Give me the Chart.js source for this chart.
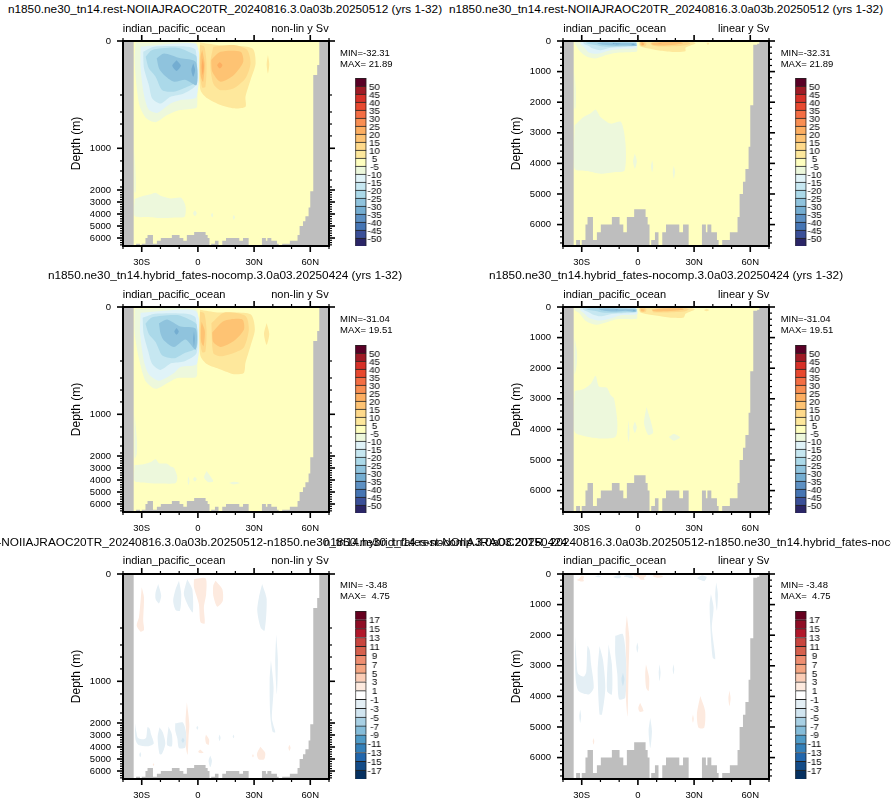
<!DOCTYPE html>
<html>
<head>
<meta charset="utf-8">
<title>indian_pacific_ocean MOC</title>
<script src="https://cdn.jsdelivr.net/npm/chart.js@4"></script>
<style>
  body { margin: 0; background: #fff; width: 891px; height: 805px; overflow: hidden; position: relative;
         font-family: "Liberation Sans", Arial, sans-serif; color: #000; }
  canvas { position: absolute; }
  .txt { position: absolute; white-space: nowrap; line-height: 1; }
</style>
</head>
<body>
<script>
// Axis values
const latTicks = [-40, -30, -20, -10, 0, 10, 20, 30, 40, 50, 60, 70];
const latLabels = { '-30': '30S', '0': '0', '30': '30N', '60': '60N' };
const depthLabels = [0, 1000, 2000, 3000, 4000, 5000, 6000];
const nonlinMinor = [200, 400, 600, 800, 1200, 1400, 1600, 1800, 2200, 2400, 2600, 2800, 3200, 3400, 3600, 3800, 4200, 4400, 4600, 4800, 5200, 5400, 5600, 5800, 6200, 6400, 6600];
const linearMinor = [200, 400, 600, 800, 1200, 1400, 1600, 1800, 2200, 2400, 2600, 2800, 3200, 3400, 3600, 3800, 4200, 4400, 4600, 4800, 5200, 5400, 5600, 5800, 6200, 6400, 6600];
const depthMax = 6700;

// Irregular depth axis: depth -> fraction of axis height
const knotDepth = [0, 200, 400, 600, 800, 1000, 1200, 1400, 1600, 1800, 2000, 6000, 6700];
const knotFrac = [0, 0.2634, 0.3463, 0.405, 0.463, 0.5234, 0.585, 0.634, 0.678, 0.712, 0.7268, 0.961, 1];

// Colour levels
const meanLevels = [50, 45, 40, 35, 30, 25, 20, 15, 10, 5, -5, -10, -15, -20, -25, -30, -35, -40, -45, -50];
const meanColors = ['#5a0026', '#a01a25', '#d73027', '#e8482e', '#f46d43', '#f98e52', '#fdae61', '#fec373', '#fed98a', '#fee89c', '#ffffbf', '#edf8dc', '#e0f3f8', '#c6e7f1', '#abd9e9', '#8fc3dd', '#74add1', '#5c90c3', '#4575b4', '#3a4f98', '#2a2566'];
const diffLevels = [17, 15, 13, 11, 9, 7, 5, 3, 1, -1, -3, -5, -7, -9, -11, -13, -15, -17];
const diffColors = ['#67001f', '#8f0d25', '#b2182b', '#c9453f', '#d6604d', '#ee8d70', '#f4a582', '#fbcdb6', '#fdeadf', '#ffffff', '#e4eff5', '#d1e5f0', '#a8d0e4', '#84bcd9', '#4f9bc7', '#3480b9', '#2166ac', '#134b87', '#053061'];

// Sea floor and land: latitude of each step, depth of the floor from there on
const floorLat = [-40, -34.3, -33, -30.9, -30, -28, -26.9, -24, -21.9, -19.8, -13.9, -9.8, -7.8, -5.9, -2, 4.1, 5.2, 6.2, 7.1, 9.1, 11, 13, 15, 22.1, 24.1, 27.1, 34.2, 36.3, 37.1, 39.2, 42.2, 43.1, 45, 49.1, 53.2, 54.3, 56.1, 57.4, 59.1, 60, 61.6, 63.7, 64.8, 70];
const floorDepth = [0, 6700, 6500, 6700, 6500, 6000, 5750, 6500, 6250, 6000, 5750, 6000, 6250, 5750, 5500, 5750, 6000, 6700, 6500, 6250, 6700, 6250, 6000, 6250, 6000, 6700, 6000, 6250, 6000, 6250, 6500, 6700, 6500, 6250, 5750, 5000, 4600, 4180, 3460, 2100, 126, 89, 0, 0];

const wholeOcean = [[-40, 0], [70, 0], [70, 6700], [-40, 6700]];

// rest case, contours as [lat, depth]
const restM5 = [[-33.3, 6], [-1.2, 6], [-0.4, 95], [-0.4, 337], [-2.1, 360], [-11, 385], [-16.4, 450], [-22.6, 570], [-27.4, 510], [-31, 337], [-32.7, 170], [-33.8, 70]];
const restM10 = [[-30.6, 21], [-1.2, 11], [-0.7, 220], [-9.3, 260], [-14.6, 300], [-21.7, 415], [-26.2, 375], [-28.8, 200], [-30.6, 101]];
const restM15 = [[-29.2, 40], [-23.5, 21], [-5.7, 21], [-1.2, 33], [-1.2, 163], [-7.5, 194], [-14.6, 220], [-19.9, 300], [-24.4, 240], [-26.2, 163], [-28.8, 101]];
const restM20 = [[-27.9, 58], [-24.4, 33], [-11, 25], [-3, 46], [-0.7, 58], [-1.2, 151], [-7.5, 175], [-12.8, 188], [-19, 182], [-22.6, 132], [-26.2, 101]];
const restM25 = [[-22, 64], [-18.1, 46], [-9.3, 64], [-1.2, 77], [-0.7, 163], [-6.6, 144], [-12.8, 151], [-18.1, 126], [-20.8, 101]];
const restM30a = [[-11.4, 71], [-9.1, 91], [-11.4, 111], [-13.7, 91]];
const restM30b = [[-2.5, 82], [-1.5, 107], [-2.5, 132], [-3.5, 107]];
const restP5 = [[1.1, 6], [10.3, 15], [29, 27], [30.8, 83], [28.1, 144], [25.4, 220], [25.4, 337], [19.2, 357], [12.1, 318], [5, 239], [1.4, 182], [0.7, 95]];
const restP5b = [[37.4, 52], [38.1, 86], [37.4, 120], [36.7, 86]];
const restP10a = [[1.1, 15], [3.4, 21], [4.6, 83], [4, 169], [2.3, 172], [1.1, 120]];
const restP10b = [[8.2, 21], [19.2, 15], [26.3, 33], [28.1, 83], [25.4, 138], [19.2, 175], [12.1, 182], [8.2, 157], [6.6, 83]];
const restP15a = [[2.3, 33], [3.6, 83], [2.8, 151], [1.6, 132], [1.4, 58]];
const restP15b = [[7.1, 70], [12.1, 40], [22.8, 40], [24.2, 77], [19.2, 126], [12.1, 151], [7.7, 114]];
const restP20a = [[2.6, 64], [3.2, 95], [2.6, 126], [2, 95]];
const restP20b = [[11.7, 78], [13.1, 90], [11.7, 102], [10.3, 90]];
const restDeep = [[-33.8, 2754], [-29, 2481], [-25, 2350], [-22.6, 2240], [-20, 2481], [-14.6, 2700], [-9, 2645], [-6.6, 3355], [-7.1, 4230], [-11.9, 4285], [-20, 4340], [-27, 4252], [-33.8, 4175]];
const restDeepB = [[-1.6, 3680], [-0.6, 3930], [-1.6, 4175], [-2.6, 3930]];
const restDeepC = [[7.6, 3900], [8.2, 4090], [7.6, 4285], [7, 4090]];
const restDeepD = [[19.2, 4065], [19.8, 4280], [19.2, 4500], [18.6, 4280]];
const restCoast = [[-33.9, 1000], [-33.2, 1600], [-33.3, 2200], [-33.9, 2200]];

const restShapes = [[0, wholeOcean], [-5, restM5], [-10, restM10], [-15, restM15], [-20, restM20], [-25, restM25], [-30, restM30a], [-30, restM30b],
  [5, restP5], [5, restP5b], [10, restP10a], [10, restP10b], [15, restP15a], [15, restP15b], [20, restP20a], [20, restP20b],
  [-5, restDeep], [-5, restDeepB], [-5, restDeepC], [-5, restDeepD], [-5, restCoast]];

// hybrid case
const hybM5 = [[-33.8, 6], [-1.2, 6], [-0.4, 95], [-0.4, 360], [-1.2, 395], [-11, 400], [-15.5, 470], [-22.6, 580], [-28, 450], [-31.5, 190], [-33.8, 95]];
const hybM10 = [[-30.6, 21], [-1.2, 15], [-0.4, 230], [-9.3, 270], [-12.8, 340], [-20.8, 445], [-26.2, 355], [-28.8, 205], [-30.9, 95]];
const hybM15 = [[-29.5, 40], [-23, 25], [-6, 25], [-1.2, 40], [-0.7, 170], [-7.5, 205], [-14, 225], [-20, 305], [-24.4, 235], [-26.5, 165], [-29, 100]];
const hybM20 = [[-28, 62], [-24.4, 38], [-11, 30], [-3.5, 50], [-0.7, 65], [-0.7, 150], [-7.5, 172], [-12.8, 190], [-19, 180], [-22.6, 130], [-26.2, 100]];
const hybM25 = [[-20.8, 60], [-16.4, 46], [-9.3, 72], [-1.2, 80], [-1.2, 158], [-6.6, 120], [-12.8, 148], [-18.1, 124], [-19.9, 100]];
const hybM30a = [[-11.4, 78], [-10.2, 91], [-11.4, 103], [-12.6, 91]];
const hybM30b = [[-2.1, 90], [-1.7, 118], [-2.1, 148], [-2.5, 118]];
const hybP5 = [[1.1, 10], [10.3, 20], [28.1, 27], [30.4, 83], [28.1, 144], [25.4, 220], [24.5, 340], [19.2, 355], [12.1, 300], [5, 239], [1.4, 182], [0.7, 95]];
const hybP5b = [[36.7, 59], [38.1, 100], [36.7, 140], [35.3, 100]];
const hybP10a = [[1.1, 18], [3.4, 24], [4.6, 85], [4, 165], [2.3, 168], [1.1, 120]];
const hybP10b = [[7.2, 60], [13.9, 21], [25.4, 33], [27.2, 83], [24.5, 150], [19.2, 170], [12.1, 182], [8.2, 170]];
const hybP15a = [[2, 55], [3.7, 90], [3, 145], [1.8, 130], [1.6, 80]];
const hybP15b = [[7.6, 95], [13.9, 52], [23.7, 46], [24.6, 83], [19.2, 126], [12.1, 148], [8.2, 130]];
const hybDeep = [[-33.8, 2743], [-29, 2678], [-25, 2500], [-22.6, 2251], [-20.8, 2601], [-16.7, 2634], [-14.6, 2874], [-12.8, 2984], [-11, 3749], [-11.9, 4241], [-20, 4296], [-27, 4241], [-33.8, 4077]];
const hybDeepB = [[-1.6, 3730], [-0.6, 3930], [-1.6, 4120], [-2.6, 3930]];
const hybDeepC = [[-5, 3690], [-4.5, 4100], [-5, 4410], [-5.5, 4100]];
const hybDeepD = [[4.6, 3260], [8.2, 4100], [5.5, 4180], [3.3, 3800]];
const hybDeepE = [[16.5, 4250], [19.2, 4150], [22.5, 4260], [19.2, 4370]];
const hybCoast = [[-33.8, 1000], [-32.5, 1500], [-32.7, 1900], [-33.8, 2200]];

const hybShapes = [[0, wholeOcean], [-5, hybM5], [-10, hybM10], [-15, hybM15], [-20, hybM20], [-25, hybM25], [-30, hybM30a], [-30, hybM30b],
  [5, hybP5], [5, hybP5b], [10, hybP10a], [10, hybP10b], [15, hybP15a], [15, hybP15b],
  [-5, hybDeep], [-5, hybDeepB], [-5, hybDeepC], [-5, hybDeepD], [-5, hybDeepE], [-5, hybCoast]];

// difference
const difA = [[-30, 49], [-28.8, 86], [-29.2, 173], [-28.8, 225], [-30.6, 244], [-32.7, 191], [-31.5, 161], [-30.6, 99]];
const difB = [[-21.2, 37], [-19.6, 80], [-20.8, 109], [-22.6, 93], [-22.6, 68]];
const difC = [[-10.1, 25], [-8.9, 74], [-9.6, 136], [-11.9, 133], [-13.2, 99], [-11.9, 56]];
const difD = [[-5.7, 19], [-3, 56], [-2.7, 142], [-4.8, 123], [-7.5, 74]];
const difE = [[-2.1, 19], [4.1, 16], [4.4, 74], [3.2, 123], [3.6, 183], [1.4, 179], [0.5, 111], [-2.1, 49]];
const difF = [[9.4, 25], [13, 56], [13.3, 99], [10.3, 121], [8.2, 80], [8.2, 43]];
const difG = [[34.3, 37], [36.7, 93], [35.6, 231], [33.5, 198], [31.7, 136], [32.6, 86]];
const difH = [[41.8, 273], [42.7, 656], [42.2, 1202], [41.3, 710]];
const difI = [[39, 656], [40.4, 1093], [39.5, 1749], [40.7, 2405], [41.3, 2787], [39.9, 2732], [38.6, 1640], [38.3, 984]];
const difJ = [[-33.6, 2022], [-32.8, 2800], [-32, 3250], [-29, 3350], [-27.6, 3200], [-26.9, 2350], [-25.7, 2500], [-25.1, 2900], [-23.6, 3716], [-26.3, 3935], [-31.7, 3825], [-33.3, 3388]];
const difK = [[-20.5, 2350], [-18.7, 2787], [-17.4, 3716], [-19.2, 4590], [-20.5, 4590], [-21.5, 3170]];
const difL = [[-12.1, 2022], [-8, 1967], [-6.2, 2951], [-6.8, 4044], [-10.1, 4090], [-11, 3270], [-12.1, 2620]];
const difL2 = [[-15.7, 2295], [-13.9, 2951], [-13.9, 3935], [-16.5, 3825]];
const difLcore = [[-8, 3224], [-7.2, 3440], [-8, 3661], [-8.8, 3440]];
const difM = [[-5.9, 1366], [-4.6, 2077], [-5, 3170], [-5.5, 4645], [-6.4, 4044], [-6.2, 2951], [-6.6, 1858]];
const difN = [[-0.3, 2240], [0.2, 2400], [-0.3, 2569], [-0.8, 2400]];
const difO = [[4.3, 2951], [6, 3388], [5.7, 3825], [4.4, 3716], [3.9, 3279]];
const difP = [[1.2, 4208], [3, 4481], [0.9, 4503], [0.2, 4372]];
const difQ = [[6.6, 4700], [7.5, 5137], [6.6, 5683], [5.7, 5137]];
const difR = [[33.3, 3989], [35.9, 4481], [35.4, 5028], [32.4, 5028], [31.5, 4590]];
const difS = [[29.4, 4590], [29.8, 4730], [29.4, 4864], [29, 4730]];
const difT = [[48.9, 3804], [49.5, 4060], [48.9, 4317], [48.3, 4060]];
const difV = [[-30.8, 4427], [-30.3, 4640], [-30.8, 4864], [-31.3, 4640]];
const difW = [[11.6, 2950], [12.1, 3220], [11.6, 3500], [11.1, 3220]];
const difX = [[19, 2950], [19.4, 3110], [19, 3280], [18.6, 3110]];
const difY = [[-23.7, 5356], [-23.3, 5465], [-23.7, 5574], [-24.1, 5465]];

const difShapes = [[0, wholeOcean], [1, difA], [-1, difB], [-1, difC], [-1, difD], [1, difE], [1, difF], [-1, difG], [-1, difH], [-1, difI],
  [-1, difJ], [-1, difK], [-1, difL], [-1, difL2], [-3, difLcore], [1, difM], [-1, difN], [1, difO], [1, difP], [-1, difQ], [1, difR], [1, difS], [1, difT],
  [-1, difV], [-1, difW], [-1, difX], [1, difY]];

const titleRest = 'n1850.ne30_tn14.rest-NOIIAJRAOC20TR_20240816.3.0a03b.20250512 (yrs 1-32)';
const titleHyb = 'n1850.ne30_tn14.hybrid_fates-nocomp.3.0a03.20250424 (yrs 1-32)';
const titleDif = 'n1850.ne30_tn14.rest-NOIIAJRAOC20TR_20240816.3.0a03b.20250512-n1850.ne30_tn14.hybrid_fates-nocomp.3.0a03.20250424';
const basinName = 'indian_pacific_ocean';
const minMax = { rest: ['MIN=-32.31', 'MAX= 21.89'], hyb: ['MIN=-31.04', 'MAX= 19.51'], dif: ['MIN= -3.48', 'MAX=  4.75'] };

const FONT = '"Liberation Sans", Arial, sans-serif';
Chart.defaults.font.family = FONT;
Chart.defaults.color = '#000';
Chart.defaults.animation = false;

// y scale with irregular spacing
class NonlinDepthScale extends Chart.LinearScale {
  static id = 'nonlinDepth';
  static defaults = Chart.LinearScale.defaults;
  getPixelForValue(v) {
    let i = 1;
    while (i < knotDepth.length - 1 && v > knotDepth[i]) i++;
    const t = (v - knotDepth[i - 1]) / (knotDepth[i] - knotDepth[i - 1]);
    return this.getPixelForDecimal(knotFrac[i - 1] + t * (knotFrac[i] - knotFrac[i - 1]));
  }
}
Chart.register(NonlinDepthScale);

// Frame and tick marks on all four sides
const framePlugin = {
  id: 'frame',
  afterDraw(chart, args, opts) {
    const { ctx, chartArea: a, scales: { x, y } } = chart;
    ctx.save();
    ctx.strokeStyle = '#000';
    ctx.lineCap = 'butt';
    const tick = (x1, y1, x2, y2, w) => {
      ctx.lineWidth = w;
      ctx.beginPath(); ctx.moveTo(x1, y1); ctx.lineTo(x2, y2); ctx.stroke();
    };
    latTicks.forEach(v => {
      const major = latLabels[v] !== undefined;
      const len = major ? 6 : 3, px = x.getPixelForValue(v);
      tick(px, a.top, px, a.top - len, major ? 1.6 : 1.2);
      tick(px, a.bottom, px, a.bottom + len, major ? 1.6 : 1.2);
    });
    depthLabels.forEach(v => {
      const py = y.getPixelForValue(v);
      tick(a.left, py, a.left - 6, py, 1.6);
      tick(a.right, py, a.right + 6, py, 1.6);
    });
    opts.minor.forEach(v => {
      const py = y.getPixelForValue(v);
      tick(a.left, py, a.left - 3, py, 1.2);
      tick(a.right, py, a.right + 3, py, 1.2);
    });
    ctx.lineWidth = 2;
    ctx.strokeRect(a.left, a.top, a.right - a.left, a.bottom - a.top);
    ctx.restore();
  }
};

function addCanvas(left, top, w, h) {
  const c = document.createElement('canvas');
  c.style.left = left + 'px';
  c.style.top = top + 'px';
  c.style.width = w + 'px';
  c.style.height = h + 'px';
  c.width = w; c.height = h;
  document.body.appendChild(c);
  return c;
}

function addText(str, x, y, size, align) {
  const d = document.createElement('div');
  d.className = 'txt';
  d.textContent = str;
  d.style.fontSize = size + 'px';
  d.style.top = (y - size / 2) + 'px';
  if (align === 'center') { d.style.left = x + 'px'; d.style.transform = 'translateX(-50%)'; }
  else if (align === 'right') { d.style.right = (891 - x) + 'px'; }
  else { d.style.left = x + 'px'; }
  d.style.whiteSpace = 'pre';
  document.body.appendChild(d);
}

function bandColor(levels, colors, edge) {
  if (edge === 0) return colors[levels.findIndex(l => l < 0)];
  const i = levels.indexOf(edge);
  return edge > 0 ? colors[i] : colors[i + 1];
}

// keep the plot box where the layout asks, whatever the tick labels want
function noLabelPadding(s) {
  s.paddingTop = 0; s.paddingBottom = 0; s.paddingLeft = 0; s.paddingRight = 0;
}

function drawField(left, top, shapes, levels, colors, linear) {
  const W = 206, H = 205, axisW = 54, axisH = 24, pad = 8;
  const datasets = shapes.map(([edge, pts], i) => ({
    data: pts.concat([pts[0]]).map(p => ({ x: p[0], y: p[1] })),
    showLine: true,
    fill: 'shape',
    tension: pts === wholeOcean ? 0 : 0.25,
    backgroundColor: bandColor(levels, colors, edge),
    borderWidth: 0,
    pointRadius: 0,
    order: shapes.length - i + 1
  }));
  datasets.push({
    data: floorLat.map((la, i) => ({ x: la, y: floorDepth[i] })),
    showLine: true,
    stepped: true,
    fill: 'start',
    backgroundColor: '#bebebe',
    borderWidth: 0,
    pointRadius: 0,
    order: 0
  });
  new Chart(addCanvas(left - axisW, top - pad, axisW + W + pad, pad + H + axisH), {
    type: 'scatter',
    data: { datasets },
    plugins: [framePlugin],
    options: {
      responsive: false,
      layout: { padding: { top: pad, right: pad } },
      plugins: {
        legend: { display: false },
        tooltip: { enabled: false },
        frame: { minor: linear ? linearMinor : nonlinMinor }
      },
      scales: {
        x: {
          type: 'linear', min: -40, max: 70,
          grid: { display: false, drawTicks: false }, border: { display: false },
          afterBuildTicks: s => { s.ticks = Object.keys(latLabels).map(k => ({ value: +k })); },
          afterFit: s => { s.height = axisH; noLabelPadding(s); },
          ticks: { autoSkip: false, maxRotation: 0, padding: 11, font: { size: 9.5 }, callback: v => latLabels[v] }
        },
        y: {
          type: linear ? 'linear' : 'nonlinDepth', min: 0, max: depthMax, reverse: true,
          grid: { display: false, drawTicks: false }, border: { display: false },
          afterBuildTicks: s => { s.ticks = depthLabels.map(v => ({ value: v })); },
          afterFit: s => { s.width = axisW; noLabelPadding(s); },
          title: { display: true, text: 'Depth (m)', font: { size: 12 }, padding: 0 },
          ticks: { autoSkip: false, padding: 12, font: { size: 9.5 }, callback: v => String(v) }
        }
      }
    }
  });
}

function drawColorbar(left, top, height, levels, colors) {
  const barW = 9.5, labelW = 18, pad = 2;
  const datasets = colors.map(col => ({
    data: [1],
    backgroundColor: col,
    borderColor: '#222',
    borderWidth: 1,
    barPercentage: 1,
    categoryPercentage: 1
  })).reverse();
  new Chart(addCanvas(left - pad, top - pad, barW + labelW + pad * 2, height + pad * 2), {
    type: 'bar',
    data: { labels: [''], datasets },
    options: {
      responsive: false,
      layout: { padding: { top: pad, bottom: pad, left: pad } },
      plugins: { legend: { display: false }, tooltip: { enabled: false } },
      scales: {
        x: { stacked: true, display: false },
        y: {
          stacked: true, position: 'right', min: 0, max: colors.length,
          grid: { display: false, drawTicks: false }, border: { display: false },
          afterBuildTicks: s => { s.ticks = levels.map((l, i) => ({ value: levels.length - i })); },
          afterFit: s => { s.width = labelW; noLabelPadding(s); },
          ticks: {
            autoSkip: false, padding: 1, crossAlign: 'center', labelOffset: 1, font: { size: 9.5 },
            callback: v => String(levels[levels.length - v])
          }
        }
      }
    }
  });
}

// Layout of the six panels
const colX = [122.7, 563.3];
const rowY = [41, 307.3, 573.5];
const cbarX = [355, 795.3];
const cbarY = [[78, 168], [345, 168], [611, 168]];
const infoX = [340, 780.7];
const titleX = [225, 666];
const titleY = [9.5, 276, 542.5];
const fields = [
  { shapes: restShapes, levels: meanLevels, colors: meanColors, mm: minMax.rest, title: titleRest },
  { shapes: hybShapes, levels: meanLevels, colors: meanColors, mm: minMax.hyb, title: titleHyb },
  { shapes: difShapes, levels: diffLevels, colors: diffColors, mm: minMax.dif, title: titleDif }
];

fields.forEach((f, r) => {
  [false, true].forEach((linear, c) => {
    drawField(colX[c], rowY[r], f.shapes, f.levels, f.colors, linear);
    drawColorbar(cbarX[c], cbarY[r][0], cbarY[r][1], f.levels, f.colors);
    addText(f.title, titleX[c], titleY[r], 11.8, 'center');
    addText(basinName, colX[c], rowY[r] - 13, 11, 'left');
    addText(linear ? 'linear y Sv' : 'non-lin y Sv', colX[c] + 206, rowY[r] - 13, 11, 'right');
    addText(f.mm[0], infoX[c], rowY[r] + 11.5, 9.5, 'left');
    addText(f.mm[1], infoX[c], rowY[r] + 22.5, 9.5, 'left');
  });
});
</script>
</body>
</html>
